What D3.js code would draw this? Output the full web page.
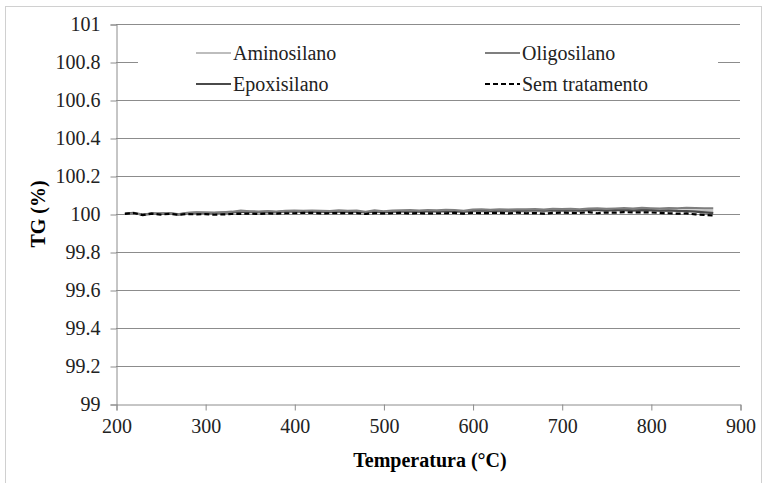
<!DOCTYPE html>
<html><head><meta charset="utf-8">
<script src="https://cdn.jsdelivr.net/npm/d3@7"></script>
<style>body{margin:0;background:#fff}svg{display:block}</style>
</head><body>
<script>
const temps = [210,220,230,240,250,260,270,280,290,300,310,320,330,340,350,360,370,380,390,400,410,420,430,440,450,460,470,480,490,500,510,520,530,540,550,560,570,580,590,600,610,620,630,640,650,660,670,680,690,700,710,720,730,740,750,760,770,780,790,800,810,820,830,840,850,860,870];
const aminosilano = [100.000,100.004,99.998,100.001,100.003,100.004,99.999,100.004,100.006,100.006,100.005,100.006,100.008,100.012,100.010,100.009,100.010,100.009,100.012,100.012,100.011,100.012,100.011,100.010,100.012,100.011,100.012,100.008,100.012,100.009,100.011,100.012,100.012,100.011,100.013,100.012,100.014,100.013,100.011,100.014,100.015,100.013,100.014,100.014,100.015,100.014,100.016,100.014,100.016,100.016,100.017,100.015,100.017,100.018,100.016,100.017,100.018,100.016,100.018,100.017,100.016,100.017,100.016,100.017,100.016,100.015,100.014];
const oligosilano = [100.000,100.003,99.998,100.000,100.004,100.005,99.998,100.006,100.008,100.008,100.007,100.009,100.012,100.018,100.014,100.013,100.015,100.013,100.017,100.018,100.016,100.018,100.017,100.015,100.019,100.017,100.018,100.012,100.019,100.014,100.018,100.019,100.020,100.018,100.021,100.019,100.022,100.021,100.017,100.023,100.025,100.022,100.024,100.023,100.025,100.024,100.026,100.023,100.027,100.026,100.027,100.025,100.028,100.030,100.027,100.029,100.031,100.028,100.032,100.030,100.029,100.031,100.030,100.032,100.031,100.030,100.030];
const epoxisilano = [100.002,100.006,99.995,100.003,100.001,100.004,99.997,100.005,100.007,100.006,100.005,100.007,100.009,100.013,100.011,100.010,100.011,100.010,100.014,100.014,100.012,100.014,100.012,100.011,100.014,100.012,100.013,100.008,100.014,100.010,100.013,100.014,100.015,100.013,100.016,100.014,100.016,100.015,100.012,100.017,100.019,100.016,100.018,100.017,100.019,100.018,100.020,100.017,100.020,100.019,100.020,100.018,100.021,100.022,100.019,100.021,100.022,100.019,100.021,100.020,100.018,100.019,100.016,100.015,100.012,100.009,100.005];
const semTratamento = [100.001,100.005,99.994,100.002,99.997,100.001,99.996,100.000,99.998,99.999,99.996,99.998,100.000,100.001,100.002,100.000,100.003,100.002,100.004,100.004,100.006,100.006,100.003,100.004,100.005,100.004,100.005,100.000,100.005,100.003,100.004,100.006,100.003,100.005,100.003,100.004,100.004,100.006,100.002,100.006,100.004,100.005,100.006,100.003,100.007,100.004,100.005,100.002,100.006,100.007,100.006,100.005,100.010,100.004,100.008,100.007,100.010,100.008,100.009,100.008,100.006,100.004,100.002,100.003,99.998,99.995,99.992];
const yTicks = [99,99.2,99.4,99.6,99.8,100,100.2,100.4,100.6,100.8,101];
const xTicks = [200,300,400,500,600,700,800,900];
const seriesNames = ["Aminosilano","Oligosilano","Epoxisilano","Sem tratamento"];

const W=762,H=483;
const svg=d3.select("body").append("svg").attr("width",W).attr("height",H);
svg.append("rect").attr("x",5.5).attr("y",6.5).attr("width",W-6).attr("height",H-6)
  .attr("fill","#fff").attr("stroke","#d0d0d0");

const x=d3.scaleLinear().domain([200,900]).range([116,740]);
const y=d3.scaleLinear().domain([99,101]).range([404,24]);
const axisCol="#8c8c8c";
const font='Liberation Serif, Tinos, Nimbus Roman, Nimbus Roman No9 L, Times, FreeSerif, Noto Serif, DejaVu Serif, serif';

svg.append("g").selectAll("line").data(yTicks.slice(1)).join("line")
  .attr("x1",116).attr("x2",740).attr("y1",d=>Math.round(y(d))+0.5).attr("y2",d=>Math.round(y(d))+0.5)
  .attr("stroke",axisCol).attr("stroke-width",1);

const ya=svg.append("g").attr("transform","translate(116.5,0.5)")
  .call(d3.axisLeft(y).tickValues(yTicks).tickSize(6).tickPadding(10).tickFormat(d=>String(+d.toFixed(1))));
const xa=svg.append("g").attr("transform","translate(0.5,404.5)")
  .call(d3.axisBottom(x).tickValues(xTicks).tickSize(6).tickPadding(8).tickFormat(d3.format("d")));
[ya,xa].forEach(a=>{
  a.attr("font-family",font).attr("font-size",20);
  a.select(".domain").attr("stroke",axisCol);
  a.selectAll(".tick line").attr("stroke",axisCol);
  a.selectAll(".tick text").attr("fill","#222");
});

const data=[aminosilano,oligosilano,epoxisilano,semTratamento];
const styles=[{c:"#bdbdbd",w:2.2,d:null},{c:"#7f7f7f",w:2.2,d:null},{c:"#4a4a4a",w:2.2,d:null},{c:"#000",w:2.2,d:"5,3"}];
const line=d3.line().x((d,i)=>x(temps[i])).y(d=>y(d));
[0,2,1,3].forEach(k=>{
  svg.append("path").datum(data[k]).attr("d",line).attr("fill","none")
    .attr("stroke",styles[k].c).attr("stroke-width",styles[k].w)
    .attr("stroke-dasharray",styles[k].d);
});

const lg=svg.append("g");
lg.append("rect").attr("x",138).attr("y",38).attr("width",580).attr("height",62).attr("fill","#fff");
const pos=[[196,53],[485,53],[196,84],[485,84]];
seriesNames.forEach((n,k)=>{
  const [lx,ly]=pos[k];
  lg.append("line").attr("x1",lx).attr("x2",lx+35).attr("y1",ly).attr("y2",ly)
    .attr("stroke",styles[k].c).attr("stroke-width",2).attr("stroke-dasharray",styles[k].d);
  lg.append("text").attr("x",lx+37).attr("y",ly+7).text(n)
    .attr("font-family",font).attr("font-size",20).attr("fill","#222");
});

svg.append("text").attr("x",430).attr("y",467).attr("text-anchor","middle")
  .attr("font-family",font).attr("font-size",20).attr("font-weight","bold").text("Temperatura (°C)");
svg.append("text").attr("transform","translate(45,214) rotate(-90)").attr("text-anchor","middle")
  .attr("font-family",font).attr("font-size",20).attr("font-weight","bold").text("TG (%)");
</script>
</body></html>
